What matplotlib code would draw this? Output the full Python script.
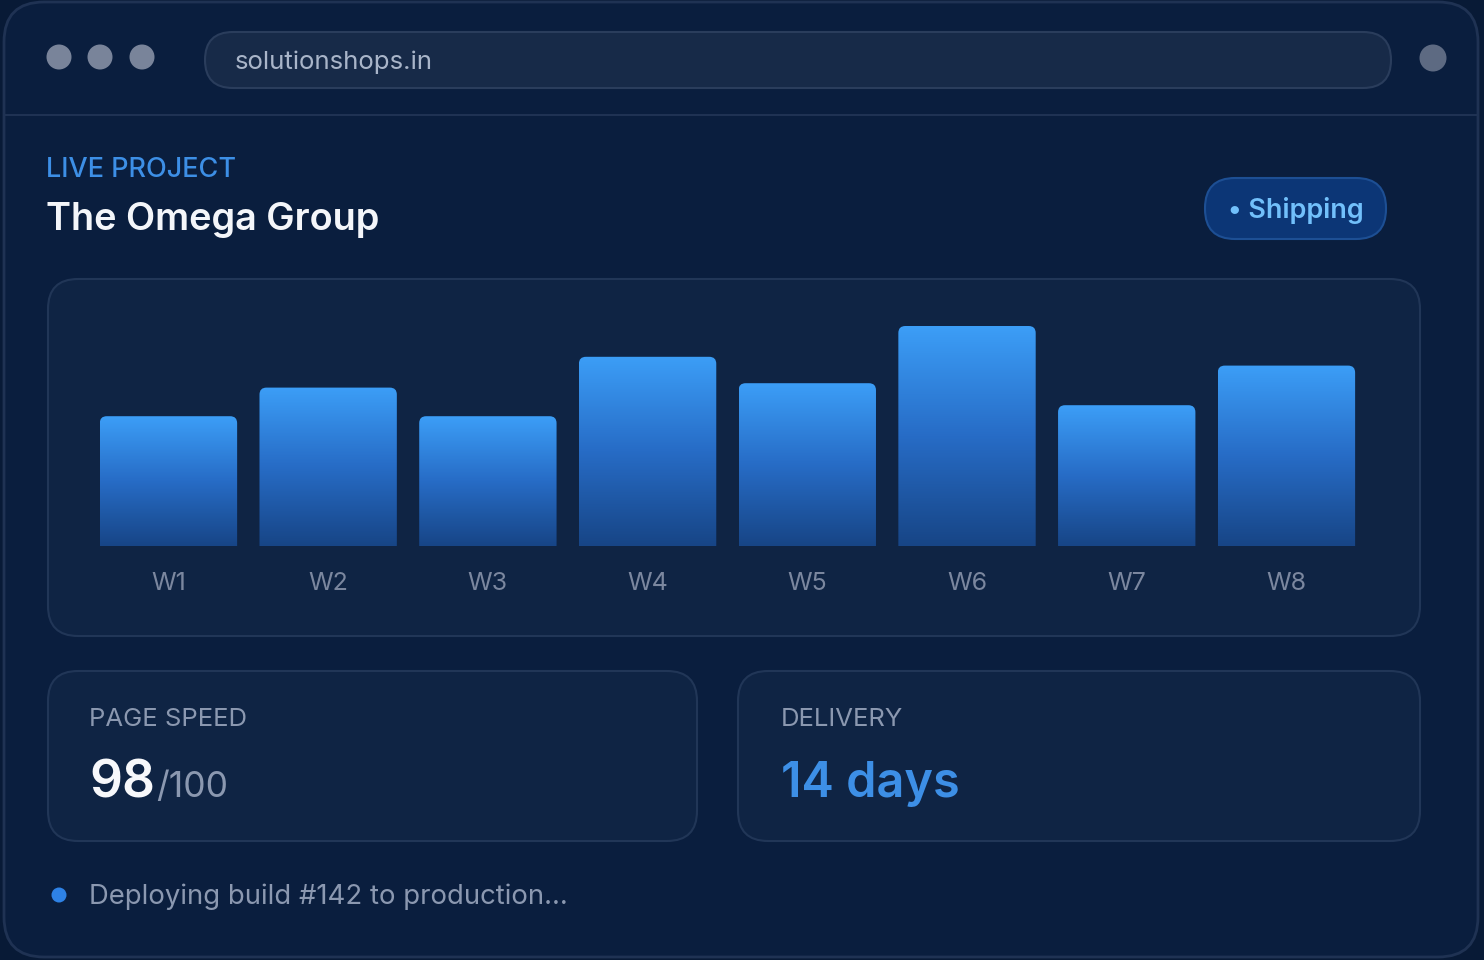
import numpy as np
import matplotlib.pyplot as plt
from matplotlib.patches import FancyBboxPatch, Circle
from matplotlib.colors import LinearSegmentedColormap

# data
weeks = ["W1", "W2", "W3", "W4", "W5", "W6", "W7", "W8"]
values = [59, 72, 59, 86, 74, 100, 64, 82]
page_speed = 98
page_speed_max = 100
delivery_days = 14
build_no = 142
site = "solutionshops.in"
project = "The Omega Group"
status = "Shipping"

plt.rcParams["font.family"] = ["Inter", "DejaVu Sans"]

W, H = 1484, 960
fig = plt.figure(figsize=(W / 100, H / 100), dpi=100)
fig.patch.set_facecolor("#081a36")

bg = fig.add_axes([0, 0, 1, 1])
bg.set_xlim(0, W)
bg.set_ylim(H, 0)
bg.axis("off")


def box(x, y, w, h, r, fc, ec, lw=1.5, z=1):
    p = FancyBboxPatch((x, y), w, h, boxstyle=f"round,pad=0,rounding_size={r}",
                       fc=fc, ec=ec, lw=lw, zorder=z)
    bg.add_patch(p)
    return p


# browser window
box(4, 2, 1474, 955, 40, "#0a1e3e", "#1f3253", lw=2)
bg.plot([5, 1477], [115, 115], color="#1f3253", lw=1.5, zorder=2)
for cx in (59, 100, 142):
    bg.add_patch(Circle((cx, 57), 12.5, fc="#79849a", ec="none", zorder=3))
bg.add_patch(Circle((1433, 58), 13.5, fc="#5d6a82", ec="none", zorder=3))
box(205, 32, 1186, 56, 28, "#172a48", "#2a3d5c", lw=1.5, z=2)
bg.text(235, 62, site, color="#a9b5c9", fontsize=18.6, va="center", ha="left", zorder=4)

# header
bg.text(46, 170, "LIVE PROJECT", color="#3d8fe6", fontsize=19.5, fontweight="medium",
        va="center", ha="left")
bg.text(46, 220, project, color="#f4f6fa", fontsize=27.3, fontweight="semibold",
        va="center", ha="left")
box(1205, 178, 181, 61, 30, "#0c3676", "#1d4f94", lw=1.5, z=2)
bg.text(1228, 210, "\u2022 " + status, color="#72c0fb", fontsize=19.4, fontweight="semibold",
        va="center", ha="left", zorder=4)

# chart panel
box(48, 279, 1372, 357, 30, "#0f2444", "#213657", lw=1.5, z=2)

# cards
box(48, 671, 649, 170, 30, "#0f2444", "#213657", lw=1.5, z=2)
box(738, 671, 682, 170, 30, "#0f2444", "#213657", lw=1.5, z=2)
bg.text(89, 719, "PAGE SPEED", color="#8b98b0", fontsize=18.5, va="center", ha="left", zorder=4)
bg.text(89, 797, str(page_speed), color="#f7f8fb", fontsize=37, fontweight="semibold",
        va="baseline", ha="left", zorder=4)
bg.text(156, 797, f"/{page_speed_max}", color="#8b98b0", fontsize=25.5,
        va="baseline", ha="left", zorder=4)
bg.text(781, 719, "DELIVERY", color="#8b98b0", fontsize=18.5, va="center", ha="left", zorder=4)
bg.text(781, 797, f"{delivery_days} days", color="#3d8fe6", fontsize=35, fontweight="semibold",
        va="baseline", ha="left", zorder=4)

# status line
bg.add_patch(Circle((59, 895), 7.5, fc="#2e82e6", ec="none", zorder=3))
bg.text(89, 897, f"Deploying build #{build_no} to production...", color="#8b98b0",
        fontsize=19.8, va="center", ha="left", zorder=4)

# bar chart
x_left, x_right = 88.6, 1366.3
y_bot, y_top = 546, 326
ax = fig.add_axes([x_left / W, (H - y_bot) / H, (x_right - x_left) / W, (y_bot - y_top) / H])
ax.patch.set_alpha(0)
for s in ax.spines.values():
    s.set_visible(False)
ax.set_xlim(-0.5, len(weeks) - 0.5)
ax.set_ylim(0, 100)
ax.set_yticks([])
ax.set_xticks(range(len(weeks)))
ax.set_xticklabels(weeks, color="#7b879f", fontsize=18)
ax.tick_params(axis="x", length=0, pad=19)

bars = ax.bar(range(len(weeks)), values, width=0.86, color="none", edgecolor="none")

cmap = LinearSegmentedColormap.from_list("bar", ["#174586", "#276cc6", "#3c9ef7"])
grad = np.linspace(0, 1, 256).reshape(-1, 1)
xpp = len(weeks) / (x_right - x_left)
ypp = 100 / (y_bot - y_top)
rad = 7
for r in bars:
    x0, w, h = r.get_x(), r.get_width(), r.get_height()
    im = ax.imshow(grad, cmap=cmap, extent=(x0, x0 + w, 0, h), origin="lower",
                   aspect="auto", zorder=3)
    clip = FancyBboxPatch((x0, -20), w, h + 20,
                          boxstyle=f"round,pad=0,rounding_size={rad * xpp}",
                          mutation_aspect=ypp / xpp, transform=ax.transData)
    im.set_clip_path(clip)
ax.set_xlim(-0.5, len(weeks) - 0.5)
ax.set_ylim(0, 100)

fig.savefig("out.png", dpi=100, facecolor=fig.get_facecolor())
